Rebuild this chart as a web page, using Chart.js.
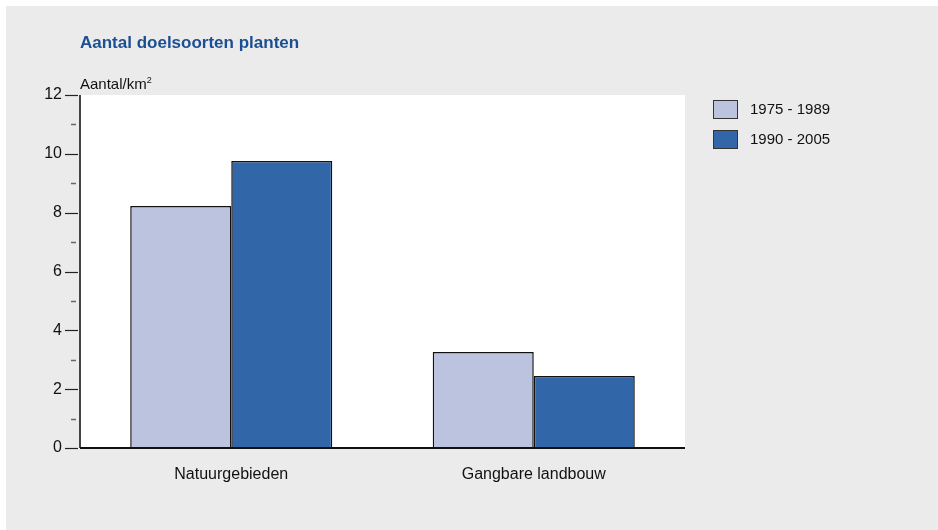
<!DOCTYPE html>
<html lang="nl">
<head>
  <meta charset="UTF-8" />
  <title>Aantal doelsoorten planten</title>
  <script src="https://cdn.jsdelivr.net/npm/chart.js"></script>
  <style>
    body {
      margin: 0;
      background: #ffffff;
      font-family: 'Liberation Sans', Arial, sans-serif;
    }

    .frame {
      position: absolute;
      left: 6px;
      top: 6px;
      width: 932px;
      height: 524px;
      background: #ebebeb;
    }

    .wrap {
      position: absolute;
      left: 0;
      top: 0;
      width: 938px;
      height: 530px;
    }

    .title {
      position: absolute;
      left: 80px;
      top: 33px;
      font-size: 17px;
      font-weight: bold;
      color: #1b4f93;
    }

    .unit {
      position: absolute;
      left: 80px;
      top: 75px;
      font-size: 15px;
      color: #111;
    }

    .unit sup {
      font-size: 9px;
    }

    .legend {
      position: absolute;
      left: 713px;
      top: 100px;
    }

    .legend-item {
      position: relative;
      height: 30px;
      font-size: 15px;
      color: #111;
    }

    .legend-box {
      position: absolute;
      left: 0;
      top: 0;
      width: 23px;
      height: 17px;
      border: 1px solid #333;
    }

    .legend-text {
      position: absolute;
      left: 37px;
      top: 0;
      line-height: 18px;
      white-space: nowrap;
    }
  </style>
</head>
<body>
  <div class="frame"></div>
  <div class="wrap">
    <canvas id="chart" width="938" height="530"></canvas>
  </div>
  <div class="title">Aantal doelsoorten planten</div>
  <div class="unit">Aantal/km<sup>2</sup></div>
  <div class="legend" id="legend"></div>

  <script>
    const categories = ["Natuurgebieden", "Gangbare landbouw"];
    const seriesNames = ["1975 - 1989", "1990 - 2005"];
    const values1975 = [8.23, 3.26];
    const values1990 = [9.76, 2.45];
    const colors = ["#bcc3df", "#3166a8"];
    const yTicks = [0, 2, 4, 6, 8, 10, 12];

    // white plot area + hand-drawn tick marks (major + minor)
    const plotDecor = {
      id: "plotDecor",
      beforeDraw(chart) {
        const { ctx, chartArea } = chart;
        ctx.save();
        ctx.fillStyle = "#ffffff";
        ctx.fillRect(chartArea.left, chartArea.top, chartArea.right - chartArea.left, chartArea.bottom - chartArea.top);
        ctx.restore();
      },
      afterDraw(chart) {
        const { ctx, chartArea } = chart;
        const y = chart.scales.y;
        ctx.save();
        for (let v = 0; v <= 12; v++) {
          const py = Math.round(y.getPixelForValue(v)) + 0.5;
          ctx.beginPath();
          if (v % 2 === 0) {
            ctx.strokeStyle = "#222";
            ctx.lineWidth = 1.2;
            ctx.moveTo(chartArea.left - 15, py);
            ctx.lineTo(chartArea.left - 2, py);
          } else {
            ctx.strokeStyle = "#666";
            ctx.lineWidth = 1.5;
            ctx.moveTo(chartArea.left - 9, py);
            ctx.lineTo(chartArea.left - 4, py);
          }
          ctx.stroke();
        }
        // axes
        ctx.strokeStyle = "#444";
        ctx.lineWidth = 2;
        ctx.beginPath();
        ctx.moveTo(chartArea.left, chartArea.top);
        ctx.lineTo(chartArea.left, chartArea.bottom);
        ctx.stroke();
        ctx.strokeStyle = "#111";
        ctx.beginPath();
        ctx.moveTo(chartArea.left, chartArea.bottom);
        ctx.lineTo(chartArea.right, chartArea.bottom);
        ctx.stroke();
        ctx.restore();
      }
    };

    const ctx = document.getElementById("chart").getContext("2d");
    new Chart(ctx, {
      type: "bar",
      data: {
        labels: categories,
        datasets: [
          {
            label: seriesNames[0],
            data: values1975,
            backgroundColor: colors[0],
            borderColor: "#111",
            borderWidth: 1.5
          },
          {
            label: seriesNames[1],
            data: values1990,
            backgroundColor: colors[1],
            borderColor: "#111",
            borderWidth: 1.5
          }
        ]
      },
      options: {
        responsive: false,
        animation: false,
        layout: {
          padding: { left: 0, right: 253, top: 95, bottom: 0 }
        },
        plugins: {
          legend: { display: false },
          tooltip: { enabled: false }
        },
        datasets: {
          bar: { categoryPercentage: 0.668, barPercentage: 1.0 }
        },
        scales: {
          x: {
            grid: { display: false },
            border: { display: false },
            ticks: {
              color: "#111",
              font: { family: "'Liberation Sans', Arial, sans-serif", size: 16 },
              padding: 9
            },
            afterFit(scale) { scale.height = 82; }
          },
          y: {
            min: 0,
            max: 12,
            afterBuildTicks(scale) {
              scale.ticks = yTicks.map(v => ({ value: v }));
            },
            grid: { display: false },
            border: { display: false },
            ticks: {
              color: "#111",
              font: { family: "'Liberation Sans', Arial, sans-serif", size: 16 },
              padding: 10
            },
            afterFit(scale) { scale.width = 80; }
          }
        }
      },
      plugins: [plotDecor]
    });

    // legend
    const legend = document.getElementById("legend");
    seriesNames.forEach((name, i) => {
      const item = document.createElement("div");
      item.className = "legend-item";
      item.innerHTML = `<span class="legend-box" style="background:${colors[i]}"></span><span class="legend-text">${name}</span>`;
      legend.appendChild(item);
    });
  </script>
</body>
</html>
